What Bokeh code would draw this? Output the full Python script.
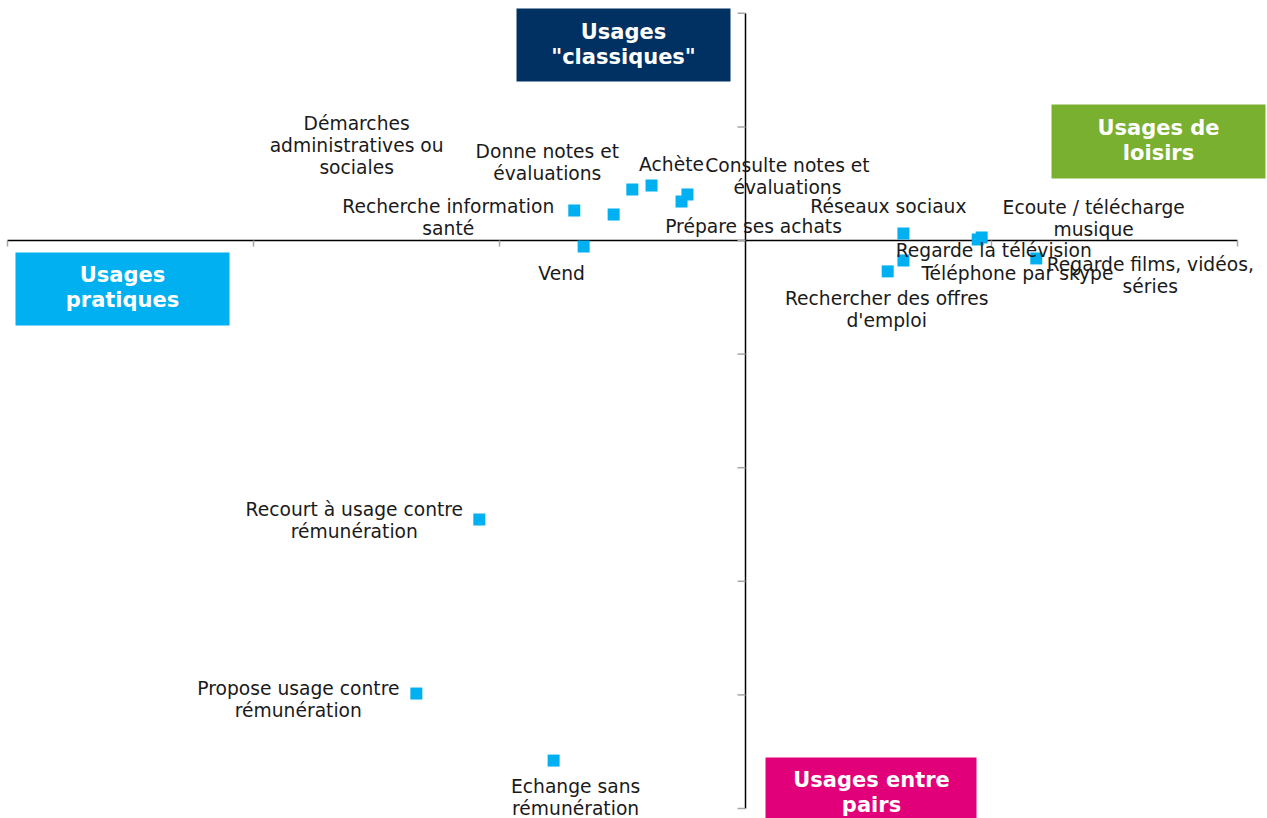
from bokeh.plotting import figure
from bokeh.models import ColumnDataSource, Range1d
from bokeh.core.properties import value
from bokeh.embed import file_html
from bokeh.resources import INLINE

# ---- data ----
labels = [
    "Démarches\nadministratives ou\nsociales",
    "Donne notes et\névaluations",
    "Achète",
    "Consulte notes et\névaluations",
    "Prépare ses achats",
    "Recherche information\nsanté",
    "Vend",
    "Réseaux sociaux",
    "Ecoute / télécharge\nmusique",
    "Regarde la télévision",
    "Téléphone par skype",
    "Regarde films, vidéos,\nséries",
    "Rechercher des offres\nd'emploi",
    "Recourt à usage contre\nrémunération",
    "Propose usage contre\nrémunération",
    "Echange sans\nrémunération",
]
x_vals = [-0.268, -0.230, -0.191, -0.118, -0.130, -0.348, -0.329,
          0.321, 0.480, 0.472, 0.321, 0.591, 0.289,
          -0.541, -0.669, -0.390]
y_vals = [0.114, 0.224, 0.242, 0.202, 0.172, 0.132, -0.026,
          0.031, 0.013, 0.004, -0.088, -0.079, -0.136,
          -1.228, -1.994, -2.289]

x_ticks = [-1.5, -1.0, -0.5, 0.5, 1.0]
y_ticks = [1.0, 0.5, 0.0, -0.5, -1.0, -1.5, -2.0, -2.5]

quadrant_titles = ['Usages\n"classiques"', "Usages de\nloisirs", "Usages\npratiques", "Usages entre\npairs"]
quadrant_colors = ["#003162", "#7AB02F", "#00B0F0", "#E2007A"]

# ---- layout helpers (pixel -> data) ----
W, H = 1267, 818
def fx(px):
    return (px - 745) / 492.0
def fy(py):
    return (240 - py) / 227.2

# label offsets in screen px (dx, dy downward)
label_offsets = [(-257, -69), (-85, -27), (20, -21), (100, -18), (72, 25),
                 (-126, 7), (-22, 27), (-15, -27), (112, -19), (16, 11),
                 (114, 13), (114, 17), (-1, 38), (-125, 1), (-118, 6), (22, 37)]

p = figure(width=W, height=H, output_backend="svg", toolbar_location=None,
           x_range=Range1d(fx(0), fx(W)), y_range=Range1d(fy(H), fy(0)),
           x_axis_type=None, y_axis_type=None, min_border=0,
           outline_line_color=None)
p.xgrid.visible = False
p.ygrid.visible = False

# quadrant boxes (pixel rectangles converted to data)
boxes_px = [(516, 730, 8, 81), (1051, 1265, 104, 178), (15, 229, 252, 325), (765, 976, 757, 830)]
p.quad(left=[fx(b[0]) for b in boxes_px], right=[fx(b[1]) for b in boxes_px],
       top=[fy(b[2]) for b in boxes_px], bottom=[fy(b[3]) for b in boxes_px],
       fill_color=quadrant_colors, line_color=None)
title_centers = [(623, 44), (1158, 140), (122, 287), (871, 792)]
p.text(x=[fx(c[0]) for c in title_centers], y=[fy(c[1]) for c in title_centers],
       text=quadrant_titles, text_align="center", text_baseline="middle",
       text_color="white", text_font=value("DejaVu Sans"), text_font_style="bold",
       text_font_size="21px", text_line_height=1.06)

# axes lines and ticks
p.segment(x0=[x_ticks[0]], y0=[0], x1=[x_ticks[-1]], y1=[0], line_color="black", line_width=1.5)
p.segment(x0=[0], y0=[y_ticks[0]], x1=[0], y1=[y_ticks[-1]], line_color="black", line_width=1.5)
tick_dy = 6 / 227.2
tick_dx = 8 / 492.0
p.segment(x0=x_ticks, y0=[0] * len(x_ticks), x1=x_ticks, y1=[-tick_dy] * len(x_ticks),
          line_color="#a6a6a6", line_width=1.5)
p.segment(x0=[0] * len(y_ticks), y0=y_ticks, x1=[-tick_dx] * len(y_ticks), y1=y_ticks,
          line_color="#a6a6a6", line_width=1.5)

src = ColumnDataSource(dict(x=x_vals, y=y_vals, label=labels,
                            dx=[o[0] for o in label_offsets],
                            dy=[o[1] for o in label_offsets]))
p.scatter("x", "y", source=src, marker="square", size=12, fill_color="#00B0F0", line_color=None)
p.text("x", "y", text="label", source=src, x_offset="dx", y_offset="dy",
       text_align="center", text_baseline="middle", text_color="#1a1a1a",
       text_font=value("DejaVu Sans"), text_font_size="18.7px", text_line_height=1.06)

open("out.html", "w").write(file_html(p, INLINE))
